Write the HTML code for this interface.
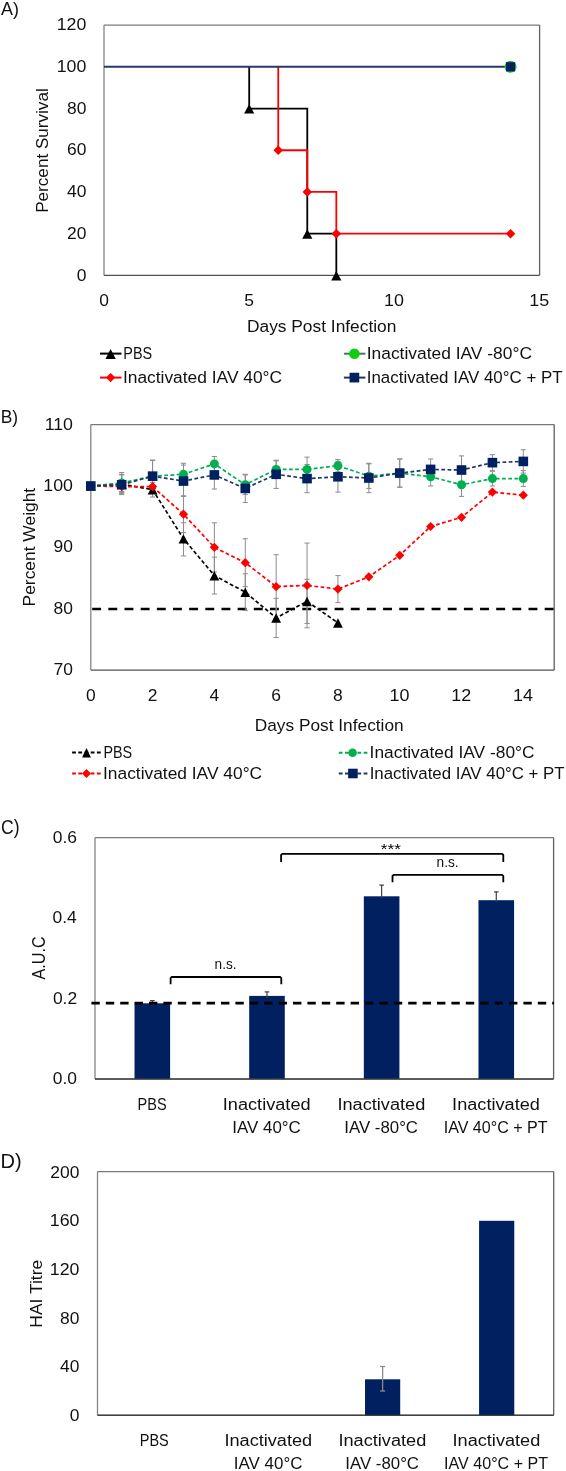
<!DOCTYPE html>
<html><head><meta charset="utf-8"><style>
html,body{margin:0;padding:0;background:#fff;}
svg{display:block;will-change:transform;}
text{font-family:"Liberation Sans", sans-serif;}
</style></head><body>
<svg width="566" height="1471" viewBox="0 0 566 1471">
<rect width="566" height="1471" fill="#fff"/>
<text transform="translate(0.96,14.90) scale(1.0016,1)" font-size="17.89" fill="#111" >A)</text>
<text transform="translate(76.67,280.50) scale(1.0619,1)" font-size="16.44" fill="#111" >0</text>
<text transform="translate(66.98,238.78) scale(1.0619,1)" font-size="16.44" fill="#111" >20</text>
<text transform="translate(66.98,197.07) scale(1.0619,1)" font-size="16.44" fill="#111" >40</text>
<text transform="translate(66.98,155.35) scale(1.0619,1)" font-size="16.44" fill="#111" >60</text>
<text transform="translate(66.98,113.63) scale(1.0619,1)" font-size="16.44" fill="#111" >80</text>
<text transform="translate(56.72,71.92) scale(1.0815,1)" font-size="16.44" fill="#111" >100</text>
<text transform="translate(56.72,30.20) scale(1.0815,1)" font-size="16.44" fill="#111" >120</text>
<text transform="translate(99.13,305.60) scale(1.0619,1)" font-size="16.44" fill="#111" >0</text>
<text transform="translate(244.36,305.60) scale(1.0619,1)" font-size="16.44" fill="#111" >5</text>
<text transform="translate(384.10,305.60) scale(1.0924,1)" font-size="16.44" fill="#111" >10</text>
<text transform="translate(529.32,305.60) scale(1.0925,1)" font-size="16.44" fill="#111" >15</text>
<text transform="translate(246.97,331.70) scale(1.0559,1)" font-size="16.44" fill="#111" >Days Post Infection</text>
<text transform="translate(48.30,212.81) rotate(-90) scale(1.0146,1)" font-size="16.87" fill="#111">Percent Survival</text>
<line x1="104.00" y1="25.10" x2="539.60" y2="25.10" stroke="#7a7a7a" stroke-width="1.3" />
<line x1="539.60" y1="25.10" x2="539.60" y2="275.40" stroke="#606060" stroke-width="1.3" />
<line x1="104.00" y1="25.10" x2="104.00" y2="275.40" stroke="#858585" stroke-width="1.3" />
<line x1="104.00" y1="275.40" x2="539.60" y2="275.40" stroke="#505050" stroke-width="1.3" />
<polyline points="249.20,66.82 249.20,108.53 307.28,108.53 307.28,233.68 336.32,233.68 336.32,275.40" fill="none" stroke="#000" stroke-width="1.8" />
<polyline points="278.24,66.82 278.24,150.25 307.28,150.25 307.28,191.97 336.32,191.97 336.32,233.68 510.56,233.68" fill="none" stroke="#FF0000" stroke-width="1.8" />
<polyline points="104.00,66.82 510.56,66.82" fill="none" stroke="#27386a" stroke-width="2.0" />
<polygon points="249.20,104.13 254.30,113.53 244.10,113.53" fill="#000"/>
<polygon points="307.28,229.28 312.38,238.68 302.18,238.68" fill="#000"/>
<polygon points="336.32,271.00 341.42,280.40 331.22,280.40" fill="#000"/>
<polygon points="278.24,145.45 283.04,150.25 278.24,155.05 273.44,150.25" fill="#f00"/>
<polygon points="307.28,187.17 312.08,191.97 307.28,196.77 302.48,191.97" fill="#f00"/>
<polygon points="336.32,228.88 341.12,233.68 336.32,238.48 331.52,233.68" fill="#f00"/>
<polygon points="510.56,228.88 515.36,233.68 510.56,238.48 505.76,233.68" fill="#f00"/>
<circle cx="510.56" cy="66.82" r="6.0" fill="#22CC22"/>
<rect x="505.96" y="62.22" width="9.20" height="9.20" fill="#002060" />
<line x1="100.00" y1="353.60" x2="121.50" y2="353.60" stroke="#000" stroke-width="2" />
<polygon points="110.60,349.00 115.80,358.90 105.40,358.90" fill="#000"/>
<text transform="translate(123.31,358.90) scale(0.8761,1)" font-size="16.44" fill="#111" >PBS</text>
<line x1="100.00" y1="377.60" x2="121.50" y2="377.60" stroke="#FF0000" stroke-width="2" />
<polygon points="110.60,372.90 115.30,377.60 110.60,382.30 105.90,377.60" fill="#f00"/>
<text transform="translate(122.89,382.90) scale(1.0579,1)" font-size="16.44" fill="#111" >Inactivated IAV 40°C</text>
<line x1="343.90" y1="353.70" x2="365.40" y2="353.70" stroke="#3a7f55" stroke-width="2" />
<circle cx="354.40" cy="353.70" r="5.3" fill="#11CC11"/>
<text transform="translate(366.69,358.90) scale(1.0593,1)" font-size="16.44" fill="#111" >Inactivated IAV -80°C</text>
<line x1="343.90" y1="377.60" x2="365.40" y2="377.60" stroke="#243763" stroke-width="2" />
<rect x="349.55" y="372.75" width="9.70" height="9.70" fill="#002060" />
<text transform="translate(366.73,382.90) scale(1.0295,1)" font-size="16.44" fill="#111" >Inactivated IAV 40°C + PT</text>
<text transform="translate(0.67,422.70) scale(0.9481,1)" font-size="18.33" fill="#111" >B)</text>
<text transform="translate(53.58,675.20) scale(1.0619,1)" font-size="16.44" fill="#111" >70</text>
<text transform="translate(53.58,613.83) scale(1.0619,1)" font-size="16.44" fill="#111" >80</text>
<text transform="translate(53.58,552.45) scale(1.0619,1)" font-size="16.44" fill="#111" >90</text>
<text transform="translate(43.32,491.07) scale(1.0815,1)" font-size="16.44" fill="#111" >100</text>
<text transform="translate(44.63,429.70) scale(1.0825,1)" font-size="16.44" fill="#111" >110</text>
<text transform="translate(85.93,700.90) scale(1.0619,1)" font-size="16.44" fill="#111" >0</text>
<text transform="translate(147.74,700.90) scale(1.0619,1)" font-size="16.44" fill="#111" >2</text>
<text transform="translate(209.57,700.90) scale(1.0619,1)" font-size="16.44" fill="#111" >4</text>
<text transform="translate(271.25,700.90) scale(1.0619,1)" font-size="16.44" fill="#111" >6</text>
<text transform="translate(333.10,700.90) scale(1.0619,1)" font-size="16.44" fill="#111" >8</text>
<text transform="translate(389.43,700.90) scale(1.0924,1)" font-size="16.44" fill="#111" >10</text>
<text transform="translate(451.33,700.90) scale(1.0928,1)" font-size="16.44" fill="#111" >12</text>
<text transform="translate(512.92,700.90) scale(1.0921,1)" font-size="16.44" fill="#111" >14</text>
<text transform="translate(254.77,731.40) scale(1.0516,1)" font-size="16.44" fill="#111" >Days Post Infection</text>
<text transform="translate(35.00,606.44) rotate(-90) scale(1.0325,1)" font-size="16.87" fill="#111">Percent Weight</text>
<line x1="90.80" y1="424.60" x2="554.20" y2="424.60" stroke="#7a7a7a" stroke-width="1.3" />
<line x1="554.20" y1="424.60" x2="554.20" y2="670.10" stroke="#606060" stroke-width="1.3" />
<line x1="90.80" y1="424.60" x2="90.80" y2="670.10" stroke="#858585" stroke-width="1.3" />
<line x1="90.80" y1="670.10" x2="554.20" y2="670.10" stroke="#505050" stroke-width="1.3" />
<line x1="92.20" y1="609.00" x2="554.20" y2="609.00" stroke="#000" stroke-width="2.6" stroke-dasharray="8.9,7.26"/>
<line x1="121.69" y1="474.93" x2="121.69" y2="493.34" stroke="#8c8c8c" stroke-width="1.0" />
<line x1="119.09" y1="474.93" x2="124.29" y2="474.93" stroke="#8c8c8c" stroke-width="1.0" />
<line x1="119.09" y1="493.34" x2="124.29" y2="493.34" stroke="#8c8c8c" stroke-width="1.0" />
<line x1="152.59" y1="482.29" x2="152.59" y2="497.02" stroke="#8c8c8c" stroke-width="1.0" />
<line x1="149.99" y1="482.29" x2="155.19" y2="482.29" stroke="#8c8c8c" stroke-width="1.0" />
<line x1="149.99" y1="497.02" x2="155.19" y2="497.02" stroke="#8c8c8c" stroke-width="1.0" />
<line x1="183.48" y1="522.80" x2="183.48" y2="555.94" stroke="#8c8c8c" stroke-width="1.0" />
<line x1="180.88" y1="522.80" x2="186.08" y2="522.80" stroke="#8c8c8c" stroke-width="1.0" />
<line x1="180.88" y1="555.94" x2="186.08" y2="555.94" stroke="#8c8c8c" stroke-width="1.0" />
<line x1="214.37" y1="557.17" x2="214.37" y2="594.00" stroke="#8c8c8c" stroke-width="1.0" />
<line x1="211.77" y1="557.17" x2="216.97" y2="557.17" stroke="#8c8c8c" stroke-width="1.0" />
<line x1="211.77" y1="594.00" x2="216.97" y2="594.00" stroke="#8c8c8c" stroke-width="1.0" />
<line x1="245.27" y1="573.74" x2="245.27" y2="610.57" stroke="#8c8c8c" stroke-width="1.0" />
<line x1="242.67" y1="573.74" x2="247.87" y2="573.74" stroke="#8c8c8c" stroke-width="1.0" />
<line x1="242.67" y1="610.57" x2="247.87" y2="610.57" stroke="#8c8c8c" stroke-width="1.0" />
<line x1="276.16" y1="598.29" x2="276.16" y2="637.57" stroke="#8c8c8c" stroke-width="1.0" />
<line x1="273.56" y1="598.29" x2="278.76" y2="598.29" stroke="#8c8c8c" stroke-width="1.0" />
<line x1="273.56" y1="637.57" x2="278.76" y2="637.57" stroke="#8c8c8c" stroke-width="1.0" />
<line x1="307.05" y1="579.27" x2="307.05" y2="623.45" stroke="#8c8c8c" stroke-width="1.0" />
<line x1="304.45" y1="579.27" x2="309.65" y2="579.27" stroke="#8c8c8c" stroke-width="1.0" />
<line x1="304.45" y1="623.45" x2="309.65" y2="623.45" stroke="#8c8c8c" stroke-width="1.0" />
<line x1="121.69" y1="480.45" x2="121.69" y2="492.73" stroke="#8c8c8c" stroke-width="1.0" />
<line x1="119.09" y1="480.45" x2="124.29" y2="480.45" stroke="#8c8c8c" stroke-width="1.0" />
<line x1="119.09" y1="492.73" x2="124.29" y2="492.73" stroke="#8c8c8c" stroke-width="1.0" />
<line x1="183.48" y1="495.79" x2="183.48" y2="532.62" stroke="#8c8c8c" stroke-width="1.0" />
<line x1="180.88" y1="495.79" x2="186.08" y2="495.79" stroke="#8c8c8c" stroke-width="1.0" />
<line x1="180.88" y1="532.62" x2="186.08" y2="532.62" stroke="#8c8c8c" stroke-width="1.0" />
<line x1="214.37" y1="522.80" x2="214.37" y2="571.90" stroke="#8c8c8c" stroke-width="1.0" />
<line x1="211.77" y1="522.80" x2="216.97" y2="522.80" stroke="#8c8c8c" stroke-width="1.0" />
<line x1="211.77" y1="571.90" x2="216.97" y2="571.90" stroke="#8c8c8c" stroke-width="1.0" />
<line x1="245.27" y1="538.76" x2="245.27" y2="586.63" stroke="#8c8c8c" stroke-width="1.0" />
<line x1="242.67" y1="538.76" x2="247.87" y2="538.76" stroke="#8c8c8c" stroke-width="1.0" />
<line x1="242.67" y1="586.63" x2="247.87" y2="586.63" stroke="#8c8c8c" stroke-width="1.0" />
<line x1="276.16" y1="554.72" x2="276.16" y2="618.55" stroke="#8c8c8c" stroke-width="1.0" />
<line x1="273.56" y1="554.72" x2="278.76" y2="554.72" stroke="#8c8c8c" stroke-width="1.0" />
<line x1="273.56" y1="618.55" x2="278.76" y2="618.55" stroke="#8c8c8c" stroke-width="1.0" />
<line x1="307.05" y1="543.05" x2="307.05" y2="627.75" stroke="#8c8c8c" stroke-width="1.0" />
<line x1="304.45" y1="543.05" x2="309.65" y2="543.05" stroke="#8c8c8c" stroke-width="1.0" />
<line x1="304.45" y1="627.75" x2="309.65" y2="627.75" stroke="#8c8c8c" stroke-width="1.0" />
<line x1="337.95" y1="575.58" x2="337.95" y2="602.59" stroke="#8c8c8c" stroke-width="1.0" />
<line x1="335.35" y1="575.58" x2="340.55" y2="575.58" stroke="#8c8c8c" stroke-width="1.0" />
<line x1="335.35" y1="602.59" x2="340.55" y2="602.59" stroke="#8c8c8c" stroke-width="1.0" />
<line x1="121.69" y1="474.31" x2="121.69" y2="491.50" stroke="#8c8c8c" stroke-width="1.0" />
<line x1="119.09" y1="474.31" x2="124.29" y2="474.31" stroke="#8c8c8c" stroke-width="1.0" />
<line x1="119.09" y1="491.50" x2="124.29" y2="491.50" stroke="#8c8c8c" stroke-width="1.0" />
<line x1="152.59" y1="460.20" x2="152.59" y2="492.11" stroke="#8c8c8c" stroke-width="1.0" />
<line x1="149.99" y1="460.20" x2="155.19" y2="460.20" stroke="#8c8c8c" stroke-width="1.0" />
<line x1="149.99" y1="492.11" x2="155.19" y2="492.11" stroke="#8c8c8c" stroke-width="1.0" />
<line x1="183.48" y1="465.11" x2="183.48" y2="483.52" stroke="#8c8c8c" stroke-width="1.0" />
<line x1="180.88" y1="465.11" x2="186.08" y2="465.11" stroke="#8c8c8c" stroke-width="1.0" />
<line x1="180.88" y1="483.52" x2="186.08" y2="483.52" stroke="#8c8c8c" stroke-width="1.0" />
<line x1="214.37" y1="456.52" x2="214.37" y2="471.25" stroke="#8c8c8c" stroke-width="1.0" />
<line x1="211.77" y1="456.52" x2="216.97" y2="456.52" stroke="#8c8c8c" stroke-width="1.0" />
<line x1="211.77" y1="471.25" x2="216.97" y2="471.25" stroke="#8c8c8c" stroke-width="1.0" />
<line x1="245.27" y1="474.93" x2="245.27" y2="494.57" stroke="#8c8c8c" stroke-width="1.0" />
<line x1="242.67" y1="474.93" x2="247.87" y2="474.93" stroke="#8c8c8c" stroke-width="1.0" />
<line x1="242.67" y1="494.57" x2="247.87" y2="494.57" stroke="#8c8c8c" stroke-width="1.0" />
<line x1="276.16" y1="460.81" x2="276.16" y2="478.00" stroke="#8c8c8c" stroke-width="1.0" />
<line x1="273.56" y1="460.81" x2="278.76" y2="460.81" stroke="#8c8c8c" stroke-width="1.0" />
<line x1="273.56" y1="478.00" x2="278.76" y2="478.00" stroke="#8c8c8c" stroke-width="1.0" />
<line x1="307.05" y1="457.13" x2="307.05" y2="481.68" stroke="#8c8c8c" stroke-width="1.0" />
<line x1="304.45" y1="457.13" x2="309.65" y2="457.13" stroke="#8c8c8c" stroke-width="1.0" />
<line x1="304.45" y1="481.68" x2="309.65" y2="481.68" stroke="#8c8c8c" stroke-width="1.0" />
<line x1="337.95" y1="459.58" x2="337.95" y2="471.86" stroke="#8c8c8c" stroke-width="1.0" />
<line x1="335.35" y1="459.58" x2="340.55" y2="459.58" stroke="#8c8c8c" stroke-width="1.0" />
<line x1="335.35" y1="471.86" x2="340.55" y2="471.86" stroke="#8c8c8c" stroke-width="1.0" />
<line x1="368.84" y1="463.88" x2="368.84" y2="488.43" stroke="#8c8c8c" stroke-width="1.0" />
<line x1="366.24" y1="463.88" x2="371.44" y2="463.88" stroke="#8c8c8c" stroke-width="1.0" />
<line x1="366.24" y1="488.43" x2="371.44" y2="488.43" stroke="#8c8c8c" stroke-width="1.0" />
<line x1="399.73" y1="458.97" x2="399.73" y2="487.20" stroke="#8c8c8c" stroke-width="1.0" />
<line x1="397.13" y1="458.97" x2="402.33" y2="458.97" stroke="#8c8c8c" stroke-width="1.0" />
<line x1="397.13" y1="487.20" x2="402.33" y2="487.20" stroke="#8c8c8c" stroke-width="1.0" />
<line x1="430.63" y1="467.56" x2="430.63" y2="485.98" stroke="#8c8c8c" stroke-width="1.0" />
<line x1="428.03" y1="467.56" x2="433.23" y2="467.56" stroke="#8c8c8c" stroke-width="1.0" />
<line x1="428.03" y1="485.98" x2="433.23" y2="485.98" stroke="#8c8c8c" stroke-width="1.0" />
<line x1="461.52" y1="473.09" x2="461.52" y2="496.41" stroke="#8c8c8c" stroke-width="1.0" />
<line x1="458.92" y1="473.09" x2="464.12" y2="473.09" stroke="#8c8c8c" stroke-width="1.0" />
<line x1="458.92" y1="496.41" x2="464.12" y2="496.41" stroke="#8c8c8c" stroke-width="1.0" />
<line x1="492.41" y1="471.25" x2="492.41" y2="485.98" stroke="#8c8c8c" stroke-width="1.0" />
<line x1="489.81" y1="471.25" x2="495.01" y2="471.25" stroke="#8c8c8c" stroke-width="1.0" />
<line x1="489.81" y1="485.98" x2="495.01" y2="485.98" stroke="#8c8c8c" stroke-width="1.0" />
<line x1="523.31" y1="470.63" x2="523.31" y2="486.59" stroke="#8c8c8c" stroke-width="1.0" />
<line x1="520.71" y1="470.63" x2="525.91" y2="470.63" stroke="#8c8c8c" stroke-width="1.0" />
<line x1="520.71" y1="486.59" x2="525.91" y2="486.59" stroke="#8c8c8c" stroke-width="1.0" />
<line x1="121.69" y1="472.47" x2="121.69" y2="494.57" stroke="#8c8c8c" stroke-width="1.0" />
<line x1="119.09" y1="472.47" x2="124.29" y2="472.47" stroke="#8c8c8c" stroke-width="1.0" />
<line x1="119.09" y1="494.57" x2="124.29" y2="494.57" stroke="#8c8c8c" stroke-width="1.0" />
<line x1="152.59" y1="460.20" x2="152.59" y2="492.11" stroke="#8c8c8c" stroke-width="1.0" />
<line x1="149.99" y1="460.20" x2="155.19" y2="460.20" stroke="#8c8c8c" stroke-width="1.0" />
<line x1="149.99" y1="492.11" x2="155.19" y2="492.11" stroke="#8c8c8c" stroke-width="1.0" />
<line x1="183.48" y1="463.27" x2="183.48" y2="496.41" stroke="#8c8c8c" stroke-width="1.0" />
<line x1="180.88" y1="463.27" x2="186.08" y2="463.27" stroke="#8c8c8c" stroke-width="1.0" />
<line x1="180.88" y1="496.41" x2="186.08" y2="496.41" stroke="#8c8c8c" stroke-width="1.0" />
<line x1="214.37" y1="460.81" x2="214.37" y2="489.04" stroke="#8c8c8c" stroke-width="1.0" />
<line x1="211.77" y1="460.81" x2="216.97" y2="460.81" stroke="#8c8c8c" stroke-width="1.0" />
<line x1="211.77" y1="489.04" x2="216.97" y2="489.04" stroke="#8c8c8c" stroke-width="1.0" />
<line x1="245.27" y1="474.31" x2="245.27" y2="502.55" stroke="#8c8c8c" stroke-width="1.0" />
<line x1="242.67" y1="474.31" x2="247.87" y2="474.31" stroke="#8c8c8c" stroke-width="1.0" />
<line x1="242.67" y1="502.55" x2="247.87" y2="502.55" stroke="#8c8c8c" stroke-width="1.0" />
<line x1="276.16" y1="460.20" x2="276.16" y2="488.43" stroke="#8c8c8c" stroke-width="1.0" />
<line x1="273.56" y1="460.20" x2="278.76" y2="460.20" stroke="#8c8c8c" stroke-width="1.0" />
<line x1="273.56" y1="488.43" x2="278.76" y2="488.43" stroke="#8c8c8c" stroke-width="1.0" />
<line x1="307.05" y1="464.49" x2="307.05" y2="492.73" stroke="#8c8c8c" stroke-width="1.0" />
<line x1="304.45" y1="464.49" x2="309.65" y2="464.49" stroke="#8c8c8c" stroke-width="1.0" />
<line x1="304.45" y1="492.73" x2="309.65" y2="492.73" stroke="#8c8c8c" stroke-width="1.0" />
<line x1="337.95" y1="461.43" x2="337.95" y2="492.11" stroke="#8c8c8c" stroke-width="1.0" />
<line x1="335.35" y1="461.43" x2="340.55" y2="461.43" stroke="#8c8c8c" stroke-width="1.0" />
<line x1="335.35" y1="492.11" x2="340.55" y2="492.11" stroke="#8c8c8c" stroke-width="1.0" />
<line x1="368.84" y1="463.27" x2="368.84" y2="492.73" stroke="#8c8c8c" stroke-width="1.0" />
<line x1="366.24" y1="463.27" x2="371.44" y2="463.27" stroke="#8c8c8c" stroke-width="1.0" />
<line x1="366.24" y1="492.73" x2="371.44" y2="492.73" stroke="#8c8c8c" stroke-width="1.0" />
<line x1="399.73" y1="458.97" x2="399.73" y2="487.20" stroke="#8c8c8c" stroke-width="1.0" />
<line x1="397.13" y1="458.97" x2="402.33" y2="458.97" stroke="#8c8c8c" stroke-width="1.0" />
<line x1="397.13" y1="487.20" x2="402.33" y2="487.20" stroke="#8c8c8c" stroke-width="1.0" />
<line x1="430.63" y1="458.97" x2="430.63" y2="479.84" stroke="#8c8c8c" stroke-width="1.0" />
<line x1="428.03" y1="458.97" x2="433.23" y2="458.97" stroke="#8c8c8c" stroke-width="1.0" />
<line x1="428.03" y1="479.84" x2="433.23" y2="479.84" stroke="#8c8c8c" stroke-width="1.0" />
<line x1="461.52" y1="455.90" x2="461.52" y2="484.13" stroke="#8c8c8c" stroke-width="1.0" />
<line x1="458.92" y1="455.90" x2="464.12" y2="455.90" stroke="#8c8c8c" stroke-width="1.0" />
<line x1="458.92" y1="484.13" x2="464.12" y2="484.13" stroke="#8c8c8c" stroke-width="1.0" />
<line x1="492.41" y1="454.67" x2="492.41" y2="470.63" stroke="#8c8c8c" stroke-width="1.0" />
<line x1="489.81" y1="454.67" x2="495.01" y2="454.67" stroke="#8c8c8c" stroke-width="1.0" />
<line x1="489.81" y1="470.63" x2="495.01" y2="470.63" stroke="#8c8c8c" stroke-width="1.0" />
<line x1="523.31" y1="449.76" x2="523.31" y2="473.09" stroke="#8c8c8c" stroke-width="1.0" />
<line x1="520.71" y1="449.76" x2="525.91" y2="449.76" stroke="#8c8c8c" stroke-width="1.0" />
<line x1="520.71" y1="473.09" x2="525.91" y2="473.09" stroke="#8c8c8c" stroke-width="1.0" />
<polyline points="90.80,485.98 121.69,484.13 152.59,489.66 183.48,538.76 214.37,575.58 245.27,592.15 276.16,617.93 307.05,601.36 337.95,622.84" fill="none" stroke="#000" stroke-width="1.7" stroke-dasharray="3.8,2.4"/>
<polygon points="90.80,481.38 95.70,490.78 85.90,490.78" fill="#000"/>
<polygon points="121.69,479.53 126.59,488.93 116.79,488.93" fill="#000"/>
<polygon points="152.59,485.06 157.49,494.46 147.69,494.46" fill="#000"/>
<polygon points="183.48,534.16 188.38,543.56 178.58,543.56" fill="#000"/>
<polygon points="214.37,570.98 219.27,580.38 209.47,580.38" fill="#000"/>
<polygon points="245.27,587.55 250.17,596.95 240.37,596.95" fill="#000"/>
<polygon points="276.16,613.33 281.06,622.73 271.26,622.73" fill="#000"/>
<polygon points="307.05,596.76 311.95,606.16 302.15,606.16" fill="#000"/>
<polygon points="337.95,618.24 342.85,627.64 333.05,627.64" fill="#000"/>
<polyline points="90.80,485.98 121.69,486.59 152.59,486.59 183.48,514.21 214.37,547.35 245.27,562.69 276.16,586.63 307.05,585.40 337.95,589.09 368.84,576.81 399.73,555.33 430.63,526.48 461.52,517.28 492.41,492.11 523.31,495.18" fill="none" stroke="#FF0000" stroke-width="1.7" stroke-dasharray="3.8,2.4"/>
<polygon points="90.80,481.38 95.40,485.98 90.80,490.58 86.20,485.98" fill="#f00"/>
<polygon points="121.69,481.99 126.29,486.59 121.69,491.19 117.09,486.59" fill="#f00"/>
<polygon points="152.59,481.99 157.19,486.59 152.59,491.19 147.99,486.59" fill="#f00"/>
<polygon points="183.48,509.61 188.08,514.21 183.48,518.81 178.88,514.21" fill="#f00"/>
<polygon points="214.37,542.75 218.97,547.35 214.37,551.95 209.77,547.35" fill="#f00"/>
<polygon points="245.27,558.09 249.87,562.69 245.27,567.29 240.67,562.69" fill="#f00"/>
<polygon points="276.16,582.03 280.76,586.63 276.16,591.23 271.56,586.63" fill="#f00"/>
<polygon points="307.05,580.80 311.65,585.40 307.05,590.00 302.45,585.40" fill="#f00"/>
<polygon points="337.95,584.49 342.55,589.09 337.95,593.69 333.35,589.09" fill="#f00"/>
<polygon points="368.84,572.21 373.44,576.81 368.84,581.41 364.24,576.81" fill="#f00"/>
<polygon points="399.73,550.73 404.33,555.33 399.73,559.93 395.13,555.33" fill="#f00"/>
<polygon points="430.63,521.88 435.23,526.48 430.63,531.08 426.03,526.48" fill="#f00"/>
<polygon points="461.52,512.68 466.12,517.28 461.52,521.88 456.92,517.28" fill="#f00"/>
<polygon points="492.41,487.51 497.01,492.11 492.41,496.71 487.81,492.11" fill="#f00"/>
<polygon points="523.31,490.58 527.91,495.18 523.31,499.78 518.71,495.18" fill="#f00"/>
<polyline points="90.80,485.98 121.69,482.91 152.59,476.16 183.48,474.31 214.37,463.88 245.27,484.75 276.16,469.40 307.05,469.40 337.95,465.72 368.84,476.16 399.73,473.09 430.63,476.77 461.52,484.75 492.41,478.61 523.31,478.61" fill="none" stroke="#00B050" stroke-width="1.7" stroke-dasharray="3.8,2.4"/>
<circle cx="90.80" cy="485.98" r="4.5" fill="#00B050"/>
<circle cx="121.69" cy="482.91" r="4.5" fill="#00B050"/>
<circle cx="152.59" cy="476.16" r="4.5" fill="#00B050"/>
<circle cx="183.48" cy="474.31" r="4.5" fill="#00B050"/>
<circle cx="214.37" cy="463.88" r="4.5" fill="#00B050"/>
<circle cx="245.27" cy="484.75" r="4.5" fill="#00B050"/>
<circle cx="276.16" cy="469.40" r="4.5" fill="#00B050"/>
<circle cx="307.05" cy="469.40" r="4.5" fill="#00B050"/>
<circle cx="337.95" cy="465.72" r="4.5" fill="#00B050"/>
<circle cx="368.84" cy="476.16" r="4.5" fill="#00B050"/>
<circle cx="399.73" cy="473.09" r="4.5" fill="#00B050"/>
<circle cx="430.63" cy="476.77" r="4.5" fill="#00B050"/>
<circle cx="461.52" cy="484.75" r="4.5" fill="#00B050"/>
<circle cx="492.41" cy="478.61" r="4.5" fill="#00B050"/>
<circle cx="523.31" cy="478.61" r="4.5" fill="#00B050"/>
<polyline points="90.80,485.98 121.69,484.75 152.59,476.16 183.48,481.07 214.37,474.93 245.27,488.43 276.16,474.31 307.05,478.61 337.95,476.77 368.84,478.00 399.73,473.09 430.63,469.40 461.52,470.02 492.41,462.65 523.31,461.43" fill="none" stroke="#1F3864" stroke-width="1.7" stroke-dasharray="3.8,2.4"/>
<rect x="86.00" y="481.18" width="9.60" height="9.60" fill="#002060" />
<rect x="116.89" y="479.95" width="9.60" height="9.60" fill="#002060" />
<rect x="147.79" y="471.36" width="9.60" height="9.60" fill="#002060" />
<rect x="178.68" y="476.27" width="9.60" height="9.60" fill="#002060" />
<rect x="209.57" y="470.13" width="9.60" height="9.60" fill="#002060" />
<rect x="240.47" y="483.63" width="9.60" height="9.60" fill="#002060" />
<rect x="271.36" y="469.51" width="9.60" height="9.60" fill="#002060" />
<rect x="302.25" y="473.81" width="9.60" height="9.60" fill="#002060" />
<rect x="333.15" y="471.97" width="9.60" height="9.60" fill="#002060" />
<rect x="364.04" y="473.20" width="9.60" height="9.60" fill="#002060" />
<rect x="394.93" y="468.29" width="9.60" height="9.60" fill="#002060" />
<rect x="425.83" y="464.60" width="9.60" height="9.60" fill="#002060" />
<rect x="456.72" y="465.22" width="9.60" height="9.60" fill="#002060" />
<rect x="487.61" y="457.85" width="9.60" height="9.60" fill="#002060" />
<rect x="518.51" y="456.62" width="9.60" height="9.60" fill="#002060" />
<line x1="72.10" y1="752.60" x2="100.90" y2="752.60" stroke="#000" stroke-width="2" stroke-dasharray="3.8,2.4"/>
<polygon points="86.50,748.00 90.90,757.50 82.10,757.50" fill="#000"/>
<text transform="translate(103.42,757.90) scale(0.8729,1)" font-size="16.44" fill="#111" >PBS</text>
<line x1="72.10" y1="773.40" x2="100.90" y2="773.40" stroke="#FF0000" stroke-width="2" stroke-dasharray="3.8,2.4"/>
<polygon points="86.50,768.90 91.00,773.40 86.50,777.90 82.00,773.40" fill="#f00"/>
<text transform="translate(102.99,778.60) scale(1.0565,1)" font-size="16.44" fill="#111" >Inactivated IAV 40°C</text>
<line x1="338.80" y1="752.70" x2="367.50" y2="752.70" stroke="#00B050" stroke-width="2" stroke-dasharray="3.8,2.4"/>
<circle cx="352.60" cy="752.70" r="4.3" fill="#00B050"/>
<text transform="translate(369.59,758.20) scale(1.0574,1)" font-size="16.44" fill="#111" >Inactivated IAV -80°C</text>
<line x1="338.80" y1="773.50" x2="367.50" y2="773.50" stroke="#1F3864" stroke-width="2" stroke-dasharray="3.8,2.4"/>
<rect x="348.10" y="768.70" width="9.60" height="9.60" fill="#002060" />
<text transform="translate(369.64,778.60) scale(1.0252,1)" font-size="16.44" fill="#111" >Inactivated IAV 40°C + PT</text>
<text transform="translate(1.02,833.60) scale(0.8626,1)" font-size="20.36" fill="#111" >C)</text>
<text transform="translate(52.69,1084.00) scale(1.0619,1)" font-size="16.44" fill="#111" >0.0</text>
<text transform="translate(52.91,1003.57) scale(1.0619,1)" font-size="16.44" fill="#111" >0.2</text>
<text transform="translate(52.52,923.13) scale(1.0619,1)" font-size="16.44" fill="#111" >0.4</text>
<text transform="translate(52.78,842.70) scale(1.0619,1)" font-size="16.44" fill="#111" >0.6</text>
<text transform="translate(44.60,979.44) rotate(-90) scale(0.9094,1)" font-size="17.75" fill="#111">A.U.C</text>
<line x1="95.00" y1="837.60" x2="553.60" y2="837.60" stroke="#7a7a7a" stroke-width="1.3" />
<line x1="553.60" y1="837.60" x2="553.60" y2="1078.90" stroke="#606060" stroke-width="1.3" />
<line x1="95.00" y1="837.60" x2="95.00" y2="1078.90" stroke="#858585" stroke-width="1.3" />
<line x1="95.00" y1="1078.90" x2="553.60" y2="1078.90" stroke="#505050" stroke-width="1.3" />
<rect x="134.52" y="1003.30" width="35.60" height="75.60" fill="#002060" />
<line x1="152.32" y1="1000.60" x2="152.32" y2="1005.30" stroke="#404040" stroke-width="1.2" />
<line x1="150.02" y1="1000.60" x2="154.62" y2="1000.60" stroke="#404040" stroke-width="1.2" />
<rect x="249.18" y="995.90" width="35.60" height="83.00" fill="#002060" />
<line x1="266.98" y1="991.90" x2="266.98" y2="997.90" stroke="#404040" stroke-width="1.2" />
<line x1="264.68" y1="991.90" x2="269.28" y2="991.90" stroke="#404040" stroke-width="1.2" />
<rect x="363.82" y="896.30" width="35.60" height="182.60" fill="#002060" />
<line x1="381.62" y1="885.10" x2="381.62" y2="898.30" stroke="#404040" stroke-width="1.2" />
<line x1="379.32" y1="885.10" x2="383.93" y2="885.10" stroke="#404040" stroke-width="1.2" />
<rect x="478.48" y="900.20" width="35.60" height="178.70" fill="#002060" />
<line x1="496.28" y1="891.90" x2="496.28" y2="902.20" stroke="#404040" stroke-width="1.2" />
<line x1="493.98" y1="891.90" x2="498.58" y2="891.90" stroke="#404040" stroke-width="1.2" />
<line x1="95.00" y1="1079.10" x2="553.60" y2="1079.10" stroke="#404040" stroke-width="1.3" />
<line x1="91.40" y1="1003.10" x2="554.00" y2="1003.10" stroke="#000" stroke-width="2.6" stroke-dasharray="8.4,6.0"/>
<polyline points="170.60,984.20 170.60,978.20 171.80,977.00 280.10,977.00 281.30,978.20 281.30,984.20" fill="none" stroke="#000" stroke-width="1.8" stroke-linejoin="round"/>
<polyline points="281.10,862.00 281.10,855.00 282.30,853.80 502.10,853.80 503.30,855.00 503.30,862.00" fill="none" stroke="#000" stroke-width="1.8" stroke-linejoin="round"/>
<polyline points="392.50,882.30 392.50,876.00 393.70,874.80 502.10,874.80 503.30,876.00 503.30,882.30" fill="none" stroke="#000" stroke-width="1.8" stroke-linejoin="round"/>
<text transform="translate(214.58,968.70) scale(0.9848,1)" font-size="13.82" fill="#111" >n.s.</text>
<text transform="translate(436.58,867.00) scale(0.9898,1)" font-size="13.82" fill="#111" >n.s.</text>
<text transform="translate(380.8,853.8) scale(1.15,1)" font-size="15" fill="#000">***</text>
<text transform="translate(137.53,1110.00) scale(0.8826,1)" font-size="16.44" fill="#111" >PBS</text>
<text transform="translate(222.79,1110.00) scale(1.1050,1)" font-size="16.44" fill="#111" >Inactivated</text>
<text transform="translate(232.21,1133.40) scale(1.0306,1)" font-size="16.44" fill="#111" >IAV 40°C</text>
<text transform="translate(337.44,1110.00) scale(1.1050,1)" font-size="16.44" fill="#111" >Inactivated</text>
<text transform="translate(344.32,1133.40) scale(1.0230,1)" font-size="16.44" fill="#111" >IAV -80°C</text>
<text transform="translate(452.09,1110.00) scale(1.1050,1)" font-size="16.44" fill="#111" >Inactivated</text>
<text transform="translate(443.69,1133.40) scale(0.9788,1)" font-size="16.44" fill="#111" >IAV 40°C + PT</text>
<text transform="translate(0.45,1167.50) scale(0.9710,1)" font-size="20.65" fill="#111" >D)</text>
<text transform="translate(69.77,1421.00) scale(1.0619,1)" font-size="16.44" fill="#111" >0</text>
<text transform="translate(60.08,1372.30) scale(1.0619,1)" font-size="16.44" fill="#111" >40</text>
<text transform="translate(60.08,1323.60) scale(1.0619,1)" font-size="16.44" fill="#111" >80</text>
<text transform="translate(49.82,1274.90) scale(1.0815,1)" font-size="16.44" fill="#111" >120</text>
<text transform="translate(49.82,1226.20) scale(1.0815,1)" font-size="16.44" fill="#111" >160</text>
<text transform="translate(50.35,1177.50) scale(1.0619,1)" font-size="16.44" fill="#111" >200</text>
<text transform="translate(41.60,1327.64) rotate(-90) scale(1.0349,1)" font-size="16.87" fill="#111">HAI Titre</text>
<line x1="97.50" y1="1171.60" x2="553.70" y2="1171.60" stroke="#7a7a7a" stroke-width="1.3" />
<line x1="553.70" y1="1171.60" x2="553.70" y2="1415.10" stroke="#606060" stroke-width="1.3" />
<line x1="97.50" y1="1171.60" x2="97.50" y2="1415.10" stroke="#858585" stroke-width="1.3" />
<line x1="97.50" y1="1415.10" x2="553.70" y2="1415.10" stroke="#505050" stroke-width="1.3" />
<rect x="365.02" y="1379.30" width="35.20" height="35.80" fill="#002060" />
<rect x="479.08" y="1220.80" width="35.20" height="194.30" fill="#002060" />
<line x1="97.50" y1="1415.30" x2="553.70" y2="1415.30" stroke="#404040" stroke-width="1.3" />
<line x1="382.62" y1="1366.50" x2="382.62" y2="1391.00" stroke="#8c8c8c" stroke-width="1.3" />
<line x1="380.12" y1="1366.50" x2="385.12" y2="1366.50" stroke="#8c8c8c" stroke-width="1.3" />
<line x1="380.12" y1="1391.00" x2="385.12" y2="1391.00" stroke="#8c8c8c" stroke-width="1.3" />
<text transform="translate(139.73,1446.00) scale(0.8826,1)" font-size="16.44" fill="#111" >PBS</text>
<text transform="translate(224.39,1446.00) scale(1.1050,1)" font-size="16.44" fill="#111" >Inactivated</text>
<text transform="translate(233.81,1469.20) scale(1.0306,1)" font-size="16.44" fill="#111" >IAV 40°C</text>
<text transform="translate(338.44,1446.00) scale(1.1050,1)" font-size="16.44" fill="#111" >Inactivated</text>
<text transform="translate(345.32,1469.20) scale(1.0230,1)" font-size="16.44" fill="#111" >IAV -80°C</text>
<text transform="translate(452.49,1446.00) scale(1.1050,1)" font-size="16.44" fill="#111" >Inactivated</text>
<text transform="translate(444.09,1469.20) scale(0.9788,1)" font-size="16.44" fill="#111" >IAV 40°C + PT</text>
</svg></body></html>
